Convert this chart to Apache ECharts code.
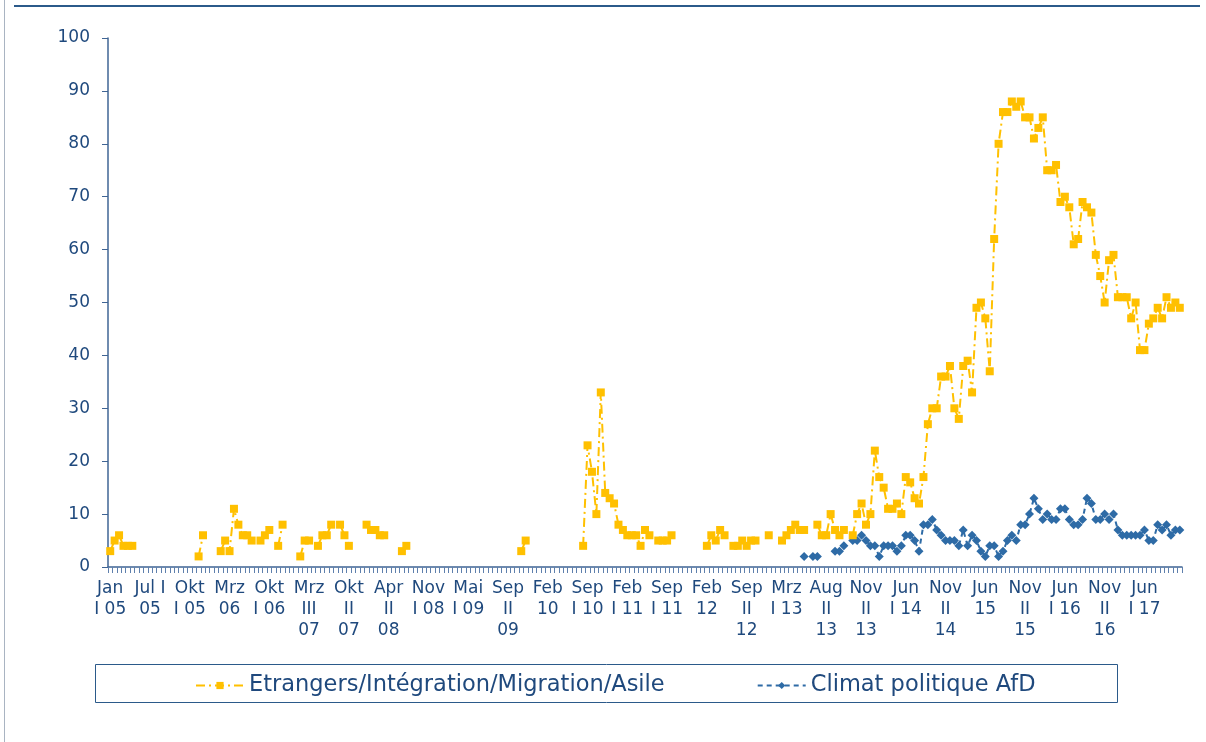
<!DOCTYPE html>
<html>
<head>
<meta charset="utf-8">
<script src="https://cdn.jsdelivr.net/npm/echarts@6/dist/echarts.min.js"></script>
<style>
html,body{margin:0;padding:0;background:#fff;}
#main{width:1206px;height:742px;}
</style>
</head>
<body>
<div id="main"></div>
<script>
// tick labels, one every 9 surveys
var xLabels = ['Jan\nI 05','Jul I\n05','Okt\nI 05','Mrz\n06','Okt\nI 06','Mrz\nIII\n07','Okt\nII\n07','Apr\nII\n08','Nov\nI 08',
  'Mai\nI 09','Sep\nII\n09','Feb\n10','Sep\nI 10','Feb\nI 11','Sep\nI 11','Feb\n12','Sep\nII\n12','Mrz\nI 13',
  'Aug\nII\n13','Nov\nII\n13','Jun\nI 14','Nov\nII\n14','Jun\n15','Nov\nII\n15','Jun\nI 16','Nov\nII\n16','Jun\nI 17'];
var nSurveys = 243;
var labelStep = 9;

// Etrangers/Intégration/Migration/Asile (null = not asked)
var etrangers = [
  3,5,6,4,4,4,null,null,null,null,null,null,null,null,null,null,null,null,null,null,
  2,6,null,null,null,3,5,3,11,8,6,6,5,null,5,6,7,null,4,8,
  null,null,null,2,5,5,null,4,6,6,8,null,8,6,4,null,null,null,8,7,
  7,6,6,null,null,null,3,4,null,null,null,null,null,null,null,null,null,null,null,null,
  null,null,null,null,null,null,null,null,null,null,null,null,null,3,5,null,null,null,null,null,
  null,null,null,null,null,null,null,4,23,18,10,33,14,13,12,8,7,6,6,6,
  4,7,6,null,5,5,5,6,null,null,null,null,null,null,null,4,6,5,7,6,
  null,4,4,5,4,5,5,null,null,6,null,null,5,6,7,8,7,7,null,null,
  8,6,6,10,7,6,7,null,6,10,12,8,10,22,17,15,11,11,12,10,
  17,16,13,12,17,27,30,30,36,36,38,30,28,38,39,33,49,50,47,37,
  62,80,86,86,88,87,88,85,85,81,83,85,75,75,76,69,70,68,61,62,
  69,68,67,59,55,50,58,59,51,51,51,47,50,41,41,46,47,49,47,51,
  49,50,49
];

// Climat politique AfD, starts at survey 157
var afdStart = 157;
var afdValues = [
  2,null,2,2,null,null,null,3,3,4,null,5,5,6,5,4,4,2,4,4,
  4,3,4,6,6,5,3,8,8,9,7,6,5,5,5,4,7,4,6,5,
  3,2,4,4,2,3,5,6,5,8,8,10,13,11,9,10,9,9,11,11,
  9,8,8,9,13,12,9,9,10,9,10,7,6,6,6,6,6,7,5,5,
  8,7,8,6,7,7
];

var categories = [];
for (var i = 0; i < nSurveys; i++) {
  categories.push(i % labelStep === 0 ? xLabels[i / labelStep] : '');
}
var afd = [];
for (var i = 0; i < nSurveys; i++) {
  var v = afdValues[i - afdStart];
  afd.push(i >= afdStart && v !== undefined ? v : null);
}

var txt = '#1F497D';
var myChart = echarts.init(document.getElementById('main'));
var option = {
  animation: false,
  textStyle: {fontFamily: 'DejaVu Sans'},
  grid: {left: 108, right: 24, top: 38, bottom: 175, outerBoundsMode: 'none'},
  graphic: [
    {type: 'line', shape: {x1: 14, y1: 6, x2: 1200, y2: 6}, style: {stroke: '#2B5A8A', lineWidth: 2}},
    {type: 'line', shape: {x1: 4.5, y1: 0, x2: 4.5, y2: 742}, style: {stroke: '#A9B4C2', lineWidth: 1}},
    {type: 'rect', shape: {x: 95.5, y: 664.5, width: 1022, height: 38}, style: {fill: 'none', stroke: '#2B5A8A', lineWidth: 1}}
  ],
  legend: {
    top: 669,
    left: 190,
    itemGap: 92,
    itemWidth: 48,
    itemHeight: 9,
    textStyle: {color: txt, fontSize: 22.5, fontFamily: 'DejaVu Sans'},
    data: ['Etrangers/Intégration/Migration/Asile', 'Climat politique AfD']
  },
  xAxis: {
    type: 'category',
    data: categories,
    boundaryGap: true,
    axisLine: {lineStyle: {color: '#3F6494', width: 1.5}},
    axisTick: {show: true, interval: 0, length: 6, lineStyle: {color: '#5F80AD'}},
    axisLabel: {interval: labelStep - 1, color: txt, fontSize: 17, lineHeight: 21, margin: 11, fontFamily: 'DejaVu Sans'},
    splitLine: {show: false}
  },
  yAxis: {
    type: 'value',
    min: 0, max: 100, interval: 10,
    axisLine: {show: true, lineStyle: {color: '#3F6494', width: 1.5}},
    axisTick: {show: true, length: 6, lineStyle: {color: '#3F6494'}},
    axisLabel: {color: txt, fontSize: 17, margin: 18, fontFamily: 'DejaVu Sans'},
    splitLine: {show: false}
  },
  series: [
    {
      name: 'Etrangers/Intégration/Migration/Asile',
      type: 'line',
      data: etrangers,
      connectNulls: false,
      symbol: 'rect',
      symbolSize: 8,
      showAllSymbol: true,
      itemStyle: {color: '#FFC000'},
      lineStyle: {color: '#FFC000', width: 2, type: [9, 4, 2, 4]},
      z: 3
    },
    {
      name: 'Climat politique AfD',
      type: 'line',
      data: afd,
      connectNulls: false,
      symbol: 'diamond',
      symbolSize: 9,
      showAllSymbol: true,
      itemStyle: {color: '#2E6BA6'},
      lineStyle: {color: '#2E6BA6', width: 2, type: [5, 4]},
      z: 2
    }
  ]
};
myChart.setOption(option);
</script>
</body>
</html>
